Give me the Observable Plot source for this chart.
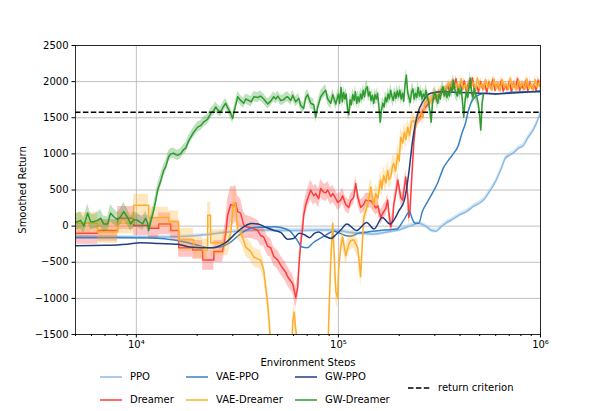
<!DOCTYPE html>
<html><head><meta charset="utf-8">
<script src="https://cdn.jsdelivr.net/npm/d3@7"></script>
<script src="https://cdn.jsdelivr.net/npm/@observablehq/plot@0.6"></script>
<style>
html,body{margin:0;padding:0;background:#fff;}
#wrap{position:relative;width:600px;height:411px;font-family:"DejaVu Sans",sans-serif;font-size:10px;color:#000;overflow:hidden}
#legend{position:absolute;left:0;top:366px;width:600px;height:45px;}
.item{position:absolute;display:flex;align-items:center;height:22px;white-space:nowrap;line-height:22px}
.item svg{margin-right:8px}
.c0{left:100px}.c1{left:186px}.c2{left:295px}.c3{left:408px}
.r0{top:0px}.r1{top:23px}.rm{top:11px}
</style></head>
<body><div id="wrap"><div id="chart"></div><div id="legend"></div></div>
<script>
// ---------- data ----------
const criterion = 1575;
const yTicks = [-1500, -1000, -500, 0, 500, 1000, 1500, 2000, 2500];
const xMajor = [1e4, 1e5, 1e6];
const xMinor = [5000,6000,7000,8000,9000,20000,30000,40000,50000,60000,70000,80000,90000,200000,300000,400000,500000,600000,700000,800000,900000];

const seriesNames = ["PPO", "Dreamer", "VAE-PPO", "VAE-Dreamer", "GW-PPO", "GW-Dreamer"];
const seriesColors = ["#8cbbe5", "#ff3b3b", "#3a80c4", "#ffae2b", "#1f3f7f", "#2f9a2f"];

const ppoSteps = [5000,7000,10000,14000,18000,22000,26000,30000,36000,45000,55000,65000,80000,95000,110000,130000,150000,175000,200000,230000,250000,270000,290000,305000,320000,340000,370000,400000,430000,470000,500000,530000,560000,600000,640000,670000,700000,740000,780000,820000,870000,920000,960000,1000000];
const ppoVals = [-140,-145,-150,-150,-140,-120,-95,-75,-60,-55,-60,-60,-55,-55,-80,-100,-110,-80,-50,10,40,0,-60,-70,-20,40,100,160,200,280,320,380,480,620,800,940,980,1020,1080,1110,1230,1330,1440,1570];
const ppoSpread = [20,20,20,20,20,20,20,25,25,30,30,30,30,30,30,30,30,30,30,30,30,30,30,30,30,30,30,30,30,30,30,30,30,30,30,30,30,30,30,30,30,30,30,30];

const vaePpoSteps = [5000,8000,12000,16000,20000,23000,26000,29000,32000,35000,38000,42000,48000,52000,57000,62000,66000,70000,75000,80000,87000,95000,100000,108000,115000,125000,140000,160000,180000,195000,210000,225000,232000,240000,250000,260000,275000,295000,310000,330000,350000,370000,390000,410000,425000,440000,455000,475000,500000,540000,600000,700000,800000,900000,1000000];
const vaePpoVals = [-160,-160,-165,-200,-260,-300,-290,-230,-130,-55,-20,-15,-10,-20,-60,-180,-290,-300,-230,-180,-120,-70,-90,-130,-140,-100,-80,-60,-50,-40,80,200,100,40,40,200,330,480,600,800,910,1000,1100,1300,1420,1600,1720,1790,1820,1840,1830,1850,1860,1860,1880];

const gwPpoSteps = [5000,7000,9000,10500,13000,16000,18000,21000,24000,26000,28500,31000,34000,37000,40000,44000,48000,52000,56000,60000,64000,68000,72000,76000,80000,86000,92000,97000,103000,110000,123000,138000,150000,165000,180000,200000,212000,218000,224000,233000,247000,264000,286000,330000,400000,500000,600000,700000,800000,900000,1000000];
const gwPpoVals = [-270,-265,-250,-230,-240,-250,-285,-300,-300,-270,-200,-100,-10,35,30,-20,-60,-90,-180,-170,-100,-120,-160,-100,-80,-140,-170,-120,-50,30,-60,50,-40,120,30,220,360,540,780,1190,1560,1740,1840,1860,1850,1840,1830,1840,1850,1860,1860];

const dreamerSteps = [5000,6430,6430,8080,8080,9700,9700,11500,11500,12900,12900,14800,14800,16200,16200,19000,19000,21300,21300,24200,24200,26700,
27700,28300,29300,30300,31000,31750,32800,33960,34780,36810,
39900,41240,42690,44690,46240,47860,50120,51790,53610,54870,
56100,58070,59420,60110,61500,62900,63640,65030,66530,67300,
68920,70470,72920,75450,77240,79830,81690,84550,86520,88510,
91620,93760,97040,99170,102600,104900,108700,112500,115100,119100,
121800,124700,128900,133400,136500,139700,144600,149600,153000,156600,
161900,167600,171500,175400,177400,181600,185800,187900,192200,196700,
203400,208100,215400,220400,222900,226000,230000,236000,241400,249900,
255500,261400,270500,286500,296500,310300,325000,
340000,348000,356000,364000,373000,382000,391000,400000,410000,420000,430000,440000,450000,461000,472000,483000,494000,506000,518000,530000,543000,556000,569000,582000,596000,610000,625000,640000,655000,670000,686000,702000,719000,736000,753000,771000,789000,808000,827000,847000,867000,887000,908000,930000,952000,975000,1000000];
const dreamerVals = [-100,-100,-60,-60,110,110,10,10,-30,-30,30,30,-60,-60,-300,-300,-330,-330,-470,-470,-350,-350,
-100,150,300,280,320,200,180,20,-10,-20,
-60,-130,-150,-280,-300,-420,-470,-540,-600,-640,
-700,-760,-800,-860,-990,-850,-600,-250,-30,150,
300,380,500,420,450,380,520,470,460,500,
410,450,380,330,360,420,300,260,350,400,
590,400,260,300,360,350,350,300,250,280,
120,200,240,360,200,-10,100,300,450,640,
400,360,680,420,120,200,600,1150,1420,1500,
1520,1600,1650,1740,1760,1810,1850,
1880,1950,1850,1990,1900,2040,1860,1960,1890,2010,1870,1980,1920,2050,1880,1940,1860,2000,1900,1970,1850,1990,1910,2030,1880,1960,1900,2010,1870,1950,1890,2000,1860,1980,1920,2040,1880,1950,1900,2010,1870,1990,1910,1960,1880,2020,1930];
const dreamerSpread = [150,150,150,150,160,160,140,140,150,150,150,150,140,140,130,130,130,130,140,140,150,150,
180,220,250,260,250,220,200,180,160,150,
140,140,130,130,130,130,130,130,130,130,
130,130,130,140,150,150,150,140,130,130,
130,130,140,130,130,130,130,120,120,120,
120,120,110,110,110,110,100,100,100,100,
100,100,100,100,100,100,100,100,100,100,
100,100,100,100,100,100,100,100,100,100,
100,100,100,100,100,100,100,100,90,90,
80,80,70,70,60,60,60,
50,50,50,50,50,50,50,50,50,50,50,50,50,50,50,50,50,50,50,50,50,50,50,50,50,50,50,50,50,50,50,50,50,50,50,50,50,50,50,50,50,50,50,50,50,50,50];

const vaeDreamerSteps = [5000,6430,6430,8080,8080,9700,9700,11500,11500,14450,14450,16200,16200,19200,19200,21300,21300,22550,22550,23300,23300,28300,
29300,30340,31000,31750,32810,33960,34780,36810,38120,41240,
42690,44690,46240,47000,58000,59420,60500,61500,62900,64000,
88000,89520,91620,93760,95000,97040,99170,100300,102600,104900,
108700,112500,115100,119100,124700,128900,131000,133400,139700,144600,
149600,153000,156600,161900,164000,167600,171500,175400,178000,181600,185000,187900,192000,196700,200000,203400,208100,212000,216000,
220400,225000,230000,236000,242000,248000,255500,262000,268000,276800,285000,296500,308000,320000,
344000,352000,360000,368000,377000,386000,395000,405000,415000,425000,435000,445000,455000,466000,477000,488000,500000,512000,524000,536000,549000,562000,575000,589000,603000,617000,632000,647000,662000,678000,694000,710000,727000,744000,762000,780000,798000,817000,837000,857000,877000,897000,919000,941000,963000,987000,1000000];
const vaeDreamerVals = [40,40,-80,-80,40,40,290,290,120,120,60,60,-190,-190,-290,-290,-330,-330,150,150,-230,-230,
-100,320,300,-50,-90,-200,-290,-350,-430,-470,
-610,-1070,-1600,-2200,-2200,-1330,-1190,-1440,-1600,-2200,
-2200,-1340,-500,40,-300,-900,-1000,-600,-300,-150,
-410,-250,-200,-190,-300,-700,-300,120,300,540,
290,450,380,640,520,700,600,770,650,680,820,870,760,1000,900,1230,1150,1300,1200,
1370,1250,1450,1460,1380,1550,1560,1500,1700,1790,1720,1850,1800,1880,
1900,1990,1870,2030,1920,1970,1880,2040,1900,1960,1870,2020,1930,1990,1880,2050,1910,1970,1890,2030,1920,1980,1880,2040,1900,1990,1870,2030,1920,1970,1890,2050,1910,1980,1880,2020,1930,1990,1890,2040,1900,1970,1880,2030,1920,1990,1960];
const vaeDreamerSpread = [150,150,160,160,150,150,150,150,140,140,150,150,160,160,150,150,150,150,180,180,180,180,
150,200,200,150,130,130,130,130,130,130,
130,130,130,130,130,130,130,130,130,130,
130,130,150,150,150,150,150,150,130,130,
130,130,120,120,120,150,150,130,130,130,
130,130,130,130,130,130,130,130,130,130,130,130,130,130,130,130,130,130,130,
120,120,120,110,110,100,100,100,90,80,80,70,70,60,
50,50,50,50,50,50,50,50,50,50,50,50,50,50,50,50,50,50,50,50,50,50,50,50,50,50,50,50,50,50,50,50,50,50,50,50,50,50,50,50,50,50,50,50,50,50,50];

const gwDreamerSteps = [5000,5300,5500,5740,5940,6150,6430,6660,6890,7210,
7460,7730,8080,8360,8660,9060,9370,9700,10150,10500,
10740,11120,11380,11500,11770,12190,12470,12750,13190,13650,
13970,14450,14790,15310,15660,16010,16560,17140,17550,18160,
18580,19230,20110,20810,21540,22550,23340,24160,24710,25260,
26130,27040,27690,28310,29310,29990,30340,31750,32810,33960,
34780,35980,37000,38120,39900,41240,42690,44690,46240,47860,
48970,50120,51790,53610,54870,56100,58070,59420,61500,63640,
65030,67300,68920,70470,72920,75450,77240,78920,81690,84550,
86520,88510,91620,93760,97040,
100000,101500,103000,104600,106100,107700,109300,111000,112600,114300,
116000,117800,119600,121400,123200,125000,126900,128800,130700,132700,
134700,136700,138800,140800,143000,145100,147300,149500,151700,154000,
156300,158700,161100,163500,165900,168400,170900,173500,176100,178700,
181400,184100,186900,189700,192600,195500,198400,201400,204400,207500,
210600,213700,216900,220200,223500,226800,230200,233700,237200,240800,
244400,248000,251800,255500,259400,263300,267200,271200,275300,279400,
283600,287900,292200,296600,301000,305500,310100,314800,319500,324300,
329100,334000,339000,344100,349300,354500,359800,365200,370700,376300,
381900,387600,393400,399300,405300,411400,417300,423900,430200,436700,
443200,449800,456600,463400,470400,477400,484600,491900,499200,506700,
514300,522000];
const gwDreamerVals = [50,80,0,180,60,60,80,110,30,30,
180,130,90,130,200,120,30,90,80,50,
30,110,40,-60,60,220,350,500,620,770,
820,960,1000,1010,990,980,1000,1060,1080,1180,
1230,1300,1370,1390,1440,1480,1560,1600,1650,1610,
1580,1660,1700,1640,1560,1490,1560,1790,1740,1700,
1760,1740,1720,1790,1780,1800,1760,1690,1730,1790,
1760,1800,1740,1750,1780,1790,1740,1810,1720,1770,
1670,1630,1780,1820,1700,1680,1510,1640,1790,1850,
1880,1760,1700,1820,1690,
1830,1700,1920,1720,1850,1760,1830,1620,1540,1750,
1680,1820,1740,1860,1700,1790,1720,1830,1760,1880,
1790,1900,1930,1800,1860,1740,1810,1700,1820,1760,
1840,1650,1440,1620,1700,1650,1780,1720,1830,1760,
1880,1790,1740,1850,1770,1870,1790,1880,1760,1840,
1730,1950,2090,1850,1780,1710,1860,1900,1760,1840,
1780,1920,1800,1870,1760,1830,1780,1880,1790,1720,
1600,1440,1700,1800,1850,1760,1700,1820,1760,1880,
1930,1800,1870,1780,1850,1800,1920,1860,2020,1900,
1840,1800,1900,1830,1900,1720,1510,1750,1850,1780,
1920,2050,1840,1780,1900,1820,1780,1700,1560,1330,
1700,1820];
const gwDreamerSpread = [110,120,110,130,110,100,110,120,110,100,
120,110,100,110,130,110,100,110,100,90,
90,100,90,80,90,90,90,80,90,80,
80,80,70,70,70,70,70,70,70,70,
70,70,70,70,70,70,70,70,70,70,
70,70,70,70,70,70,70,70,70,70,
70,70,70,70,70,70,70,70,70,70,
70,70,70,70,70,70,70,70,70,70,
70,70,70,70,80,80,80,80,80,80,
80,80,80,80,80,
90,90,90,90,90,90,90,90,90,90,
90,90,90,90,90,90,90,90,90,90,
90,90,90,90,90,90,90,90,90,90,
90,90,90,90,90,90,90,90,90,90,
90,90,90,90,90,90,90,90,90,90,
90,90,90,90,90,90,90,90,90,90,
90,90,90,90,90,90,90,90,90,90,
90,90,90,90,90,90,90,90,90,90,
90,90,90,90,90,90,90,90,90,90,
90,90,90,90,90,90,90,90,90,90,
90,90,90,90,90,90,90,90,90,90,
90,90];

// ---------- tables ----------
function table(steps, vals, spread) {
  return steps.map((s, i) => ({x: s, y: vals[i], lo: vals[i] - (spread ? spread[i] : 0), hi: vals[i] + (spread ? spread[i] : 0)}));
}
const ppo = table(ppoSteps, ppoVals, ppoSpread);
const dreamer = table(dreamerSteps, dreamerVals, dreamerSpread);
const vaePpo = table(vaePpoSteps, vaePpoVals);
const vaeDreamer = table(vaeDreamerSteps, vaeDreamerVals, vaeDreamerSpread);
const gwPpo = table(gwPpoSteps, gwPpoVals);
const gwDreamer = table(gwDreamerSteps, gwDreamerVals, gwDreamerSpread);

const supDigits = "⁰¹²³⁴⁵⁶⁷⁸⁹";
const sup = d => "10" + String(Math.round(Math.log10(d))).split("").map(c => supDigits[+c]).join("");

const band = (data, color, op) => Plot.areaY(data, {x: "x", y1: "lo", y2: "hi", fill: color, fillOpacity: op, clip: true});
const line = (data, color, curve) => Plot.line(data, {x: "x", y: "y", stroke: color, strokeWidth: 1.5, curve: curve || "linear", clip: true});

const chart = Plot.plot({
  width: 600, height: 366,
  marginLeft: 75, marginRight: 60, marginTop: 45, marginBottom: 32,
  style: {fontFamily: "DejaVu Sans", fontSize: "10px", background: "white", color: "black"},
  x: {type: "log", domain: [5000, 1e6]},
  y: {domain: [-1500, 2500]},
  marks: [
    Plot.gridY(yTicks, {stroke: "#b0b0b0", strokeOpacity: 1, strokeWidth: 0.8}),
    Plot.gridX(xMajor, {stroke: "#b0b0b0", strokeOpacity: 1, strokeWidth: 0.8}),
    band(ppo, seriesColors[0], 0.35),
    line(ppo, seriesColors[0], "monotone-x"),
    band(dreamer, seriesColors[1], 0.3),
    line(dreamer, seriesColors[1]),
    line(vaePpo, seriesColors[2], "monotone-x"),
    band(vaeDreamer, seriesColors[3], 0.3),
    line(vaeDreamer, seriesColors[3]),
    line(gwPpo, seriesColors[4], "monotone-x"),
    band(gwDreamer, seriesColors[5], 0.3),
    line(gwDreamer, seriesColors[5]),
    Plot.ruleY([criterion], {stroke: "black", strokeWidth: 1.5, strokeDasharray: "5.5,2.4"}),
    Plot.frame({stroke: "#000", strokeWidth: 0.8}),
    Plot.axisY(yTicks, {tickSize: 3.5, tickPadding: 3.5, tickFormat: d3.format("d"), label: "Smoothed Return", labelAnchor: "center", labelOffset: 57, labelArrow: "none"}),
    Plot.axisX(xMajor, {tickSize: 3.5, tickPadding: 3, tickFormat: sup, label: "Environment Steps", labelAnchor: "center", labelOffset: 31, labelArrow: "none"}),
    Plot.axisX(xMinor, {tickSize: 2, tickFormat: () => "", label: null})
  ]
});
document.getElementById("chart").appendChild(chart);

// ---------- legend ----------
const legendCol = [0, 0, 1, 1, 2, 2];
const legendRow = [0, 1, 0, 1, 0, 1];
const lg = document.getElementById("legend");
seriesNames.forEach((name, i) => {
  const d = document.createElement("div");
  d.className = `item c${legendCol[i]} r${legendRow[i]}`;
  d.innerHTML = `<svg width="22" height="4"><line x1="0" x2="22" y1="2" y2="2" stroke="${seriesColors[i]}" stroke-width="1.5"/></svg><span>${name}</span>`;
  lg.appendChild(d);
});
const rc = document.createElement("div");
rc.className = "item c3 rm";
rc.innerHTML = `<svg width="22" height="4"><line x1="0" x2="22" y1="2" y2="2" stroke="black" stroke-width="1.5" stroke-dasharray="5.5,2.4"/></svg><span>return criterion</span>`;
lg.appendChild(rc);
</script>
</body></html>
